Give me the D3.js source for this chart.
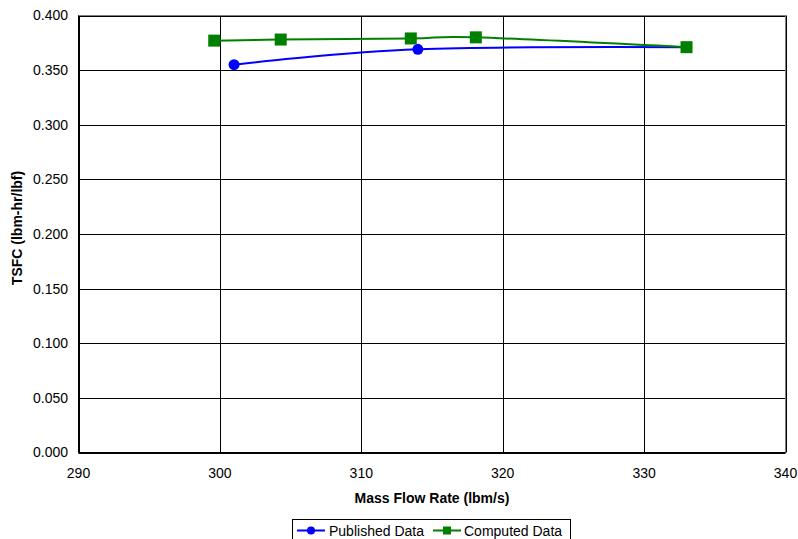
<!DOCTYPE html>
<html><head><meta charset="utf-8">
<script src="https://cdn.jsdelivr.net/npm/d3@7"></script>
<style>body{margin:0;background:#fff}svg{display:block}text{font-family:"Liberation Sans",Arial,sans-serif}</style>
</head><body><svg id="c" width="798" height="539"></svg>
<script>
const publishedX = [301.0, 314.0, 333.0];
const publishedY = [0.355, 0.369, 0.371];
const computedX = [299.6, 304.3, 313.5, 318.1, 333.0];
const computedY = [0.377, 0.378, 0.379, 0.380, 0.371];
const xTicks = [290, 300, 310, 320, 330, 340];
const yTicks = [0, 0.05, 0.1, 0.15, 0.2, 0.25, 0.3, 0.35, 0.4];
const seriesNames = ["Published Data", "Computed Data"];

const svg = d3.select("#c");
const L = 78.5, R = 785.5, T = 15.5, B = 452.5;
const x = d3.scaleLinear().domain([290, 340]).range([L, R]);
const y = d3.scaleLinear().domain([0, 0.4]).range([B, T]);

// grid
svg.append("g").selectAll("line").data(yTicks).join("line")
  .attr("x1", L).attr("x2", R).attr("y1", d => Math.round(y(d)) + 0.5).attr("y2", d => Math.round(y(d)) + 0.5)
  .attr("stroke", "#000").attr("stroke-width", 1);
svg.append("g").selectAll("line").data(xTicks).join("line")
  .attr("y1", T).attr("y2", B).attr("x1", d => Math.round(x(d)) + 0.5).attr("x2", d => Math.round(x(d)) + 0.5)
  .attr("stroke", "#000").attr("stroke-width", 1);
svg.append("rect").attr("x", L).attr("y", T).attr("width", R - L).attr("height", B - T)
  .attr("fill", "none").attr("stroke", "#808080");
svg.append("line").attr("x1", L).attr("x2", R).attr("y1", B).attr("y2", B).attr("stroke", "#000");
svg.append("line").attr("x1", L).attr("x2", L).attr("y1", T).attr("y2", B).attr("stroke", "#000");

// tick labels
svg.append("g").selectAll("text").data(yTicks).join("text")
  .attr("x", 68).attr("y", d => y(d)).attr("dy", "0.35em").attr("text-anchor", "end")
  .attr("font-size", 14).text(d3.format(".3f"));
svg.append("g").selectAll("text").data(xTicks).join("text")
  .attr("x", d => x(d)).attr("y", 473).attr("dy", "0.35em").attr("text-anchor", "middle")
  .attr("font-size", 14).text(d => d);

// titles
svg.append("text").attr("x", (L + R) / 2).attr("y", 498).attr("dy", "0.35em").attr("text-anchor", "middle")
  .attr("font-size", 14).attr("font-weight", "bold").text("Mass Flow Rate (lbm/s)");
svg.append("text").attr("transform", "translate(17,228) rotate(-90)").attr("dy", "0.35em").attr("text-anchor", "middle")
  .attr("font-size", 14).attr("font-weight", "bold").text("TSFC (lbm-hr/lbf)");

const line = d3.line().x(d => x(d[0])).y(d => y(d[1])).curve(d3.curveCatmullRom.alpha(0));
const pub = publishedX.map((v, i) => [v, publishedY[i]]);
const comp = computedX.map((v, i) => [v, computedY[i]]);

svg.append("path").datum(pub).attr("d", line).attr("fill", "none").attr("stroke", "#0000FF").attr("stroke-width", 2);
svg.append("g").selectAll("circle").data(pub).join("circle")
  .attr("cx", d => x(d[0])).attr("cy", d => y(d[1])).attr("r", 5.5).attr("fill", "#0000FF");
svg.append("path").datum(comp).attr("d", line).attr("fill", "none").attr("stroke", "#008000").attr("stroke-width", 2);
svg.append("g").selectAll("rect").data(comp).join("rect")
  .attr("x", d => x(d[0]) - 6).attr("y", d => y(d[1]) - 6).attr("width", 12).attr("height", 12).attr("fill", "#008000");

// legend
const lg = svg.append("g");
lg.append("rect").attr("x", 292.5).attr("y", 519.5).attr("width", 278).attr("height", 30).attr("fill", "#fff").attr("stroke", "#000");
const items = [{name: seriesNames[0], c: "#0000FF", sx: 297, tx: 329, shape: "circle"},
               {name: seriesNames[1], c: "#008000", sx: 433, tx: 464, shape: "rect"}];
items.forEach(it => {
  lg.append("line").attr("x1", it.sx).attr("x2", it.sx + 28).attr("y1", 530.5).attr("y2", 530.5).attr("stroke", it.c).attr("stroke-width", 2);
  if (it.shape === "circle") lg.append("circle").attr("cx", it.sx + 14).attr("cy", 530.5).attr("r", 4).attr("fill", it.c);
  else lg.append("rect").attr("x", it.sx + 10).attr("y", 526.5).attr("width", 8).attr("height", 8).attr("fill", it.c);
  lg.append("text").attr("x", it.tx).attr("y", 531).attr("dy", "0.35em").attr("font-size", 14).text(it.name);
});
</script></body></html>
